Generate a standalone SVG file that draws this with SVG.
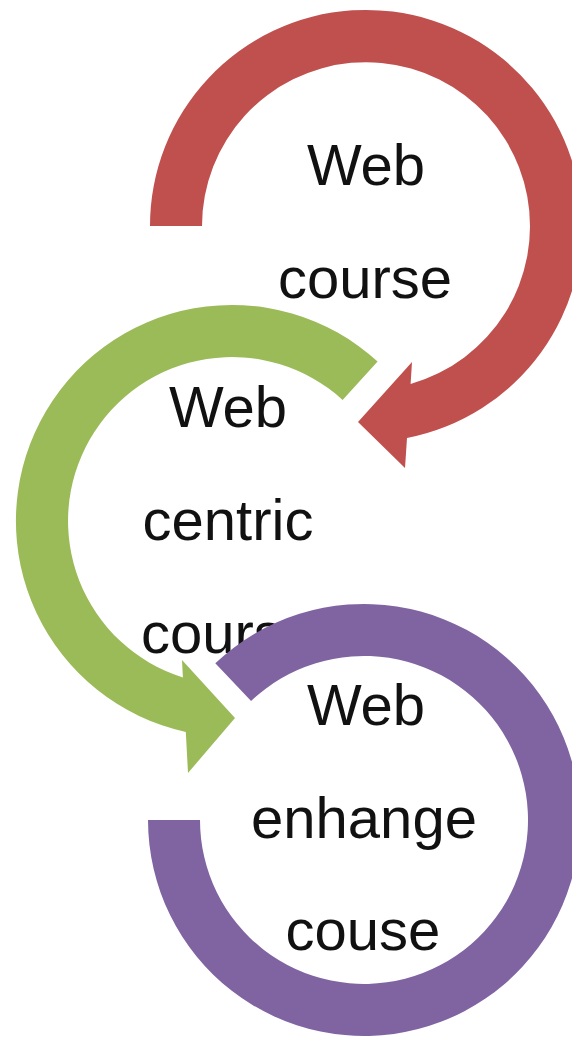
<svg xmlns="http://www.w3.org/2000/svg" width="572" height="1042" viewBox="0 0 572 1042">
  <style>
    .lbl { font-family: "Liberation Sans", Arial, sans-serif; font-size: 58px; fill: #111; text-anchor: middle; }
    .red { fill: #C0504D; }
    .green { fill: #9BBB59; }
    .purple { fill: #8064A2; }
  </style>
  <rect width="572" height="1042" fill="#fff"/>

  <!-- Step 1: clockwise circular arrow -->
  <g id="node-web-course">
    <path class="red" d="M150 226 A216 216 0 1 1 407 438 L405 468 L358 422 L412 362 L410.6 384 A164 164 0 1 0 202 226 Z"/>
    <text class="lbl" x="366" y="185">Web</text>
    <text class="lbl" x="365" y="298">course</text>
  </g>

  <!-- Step 2: counter-clockwise circular arrow -->
  <g id="node-web-centric-course">
    <path class="green" d="M377.6 361.5 A216 216 0 1 0 185.8 732 L188 773 L235 718 L182 660 L182.9 677.5 A164 164 0 1 1 342.6 399.9 Z"/>
    <text class="lbl" x="228" y="427">Web</text>
    <text class="lbl" x="228" y="540">centric</text>
    <text class="lbl" x="228" y="653">course</text>
  </g>

  <!-- Step 3: open ring, no arrowhead -->
  <g id="node-web-enhange-couse">
    <path class="purple" d="M148 820 A216 216 0 1 0 215.3 663.3 L251.1 701 A164 164 0 1 1 200 820 Z"/>
    <text class="lbl" x="366" y="725">Web</text>
    <text class="lbl" x="364" y="838">enhange</text>
    <text class="lbl" x="363" y="950">couse</text>
  </g>
</svg>
